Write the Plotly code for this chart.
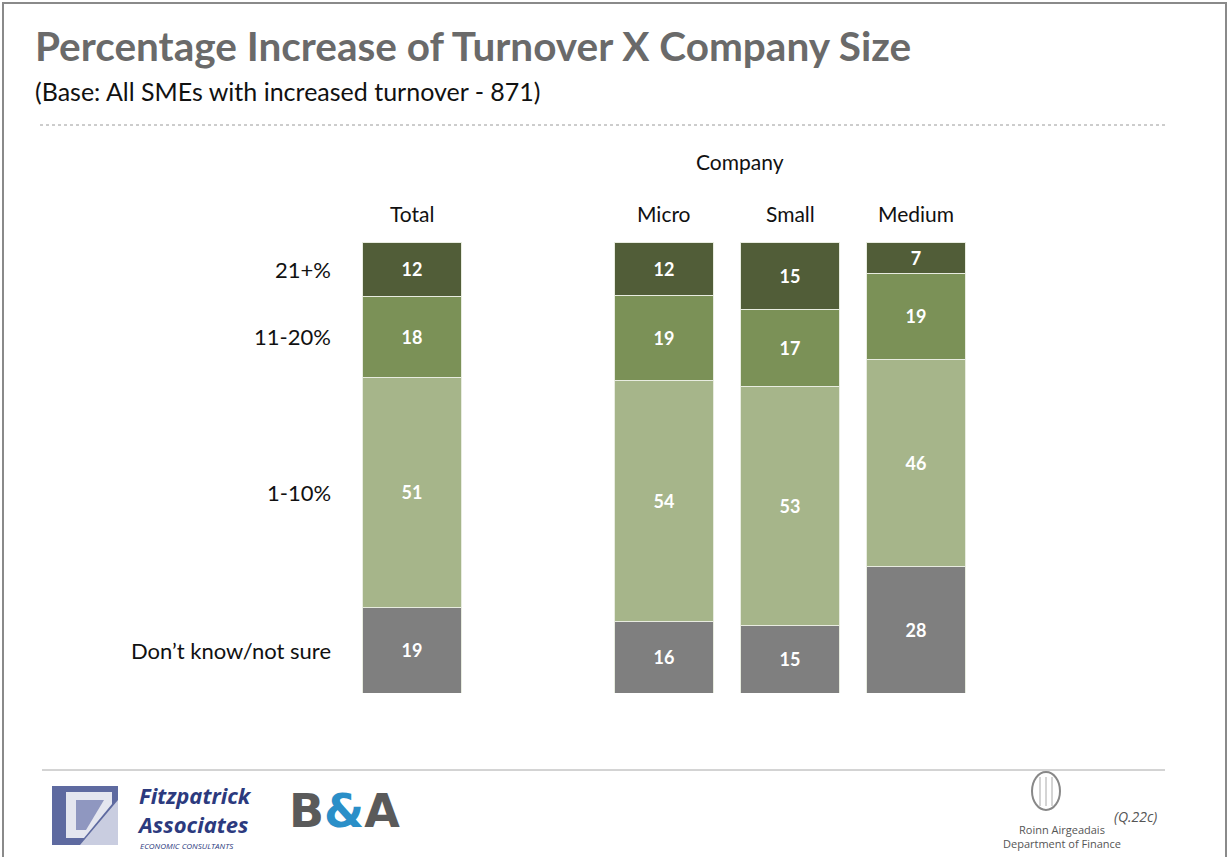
import plotly.graph_objects as go

# Data: share of SMEs by size of turnover increase (stacked to 100%)
groups = ["Total", "Micro", "Small", "Medium"]
group_pos = [0, 2, 3, 4]
bands = ["Don\u2019t know/not sure", "1-10%", "11-20%", "21+%"]
dont_know = [19, 16, 15, 28]
pct_1_10 = [51, 54, 53, 46]
pct_11_20 = [18, 19, 17, 19]
pct_21_plus = [12, 12, 15, 7]
band_colors = ["#7f7f7f", "#a6b58a", "#7b9157", "#515d38"]

W, H = 1228, 857
FONT = "Lato"


def px_x(x):
    return x / W


def px_y(y):
    return 1 - y / H


fig = go.Figure()
series = [dont_know, pct_1_10, pct_11_20, pct_21_plus]
for name, vals, col in zip(bands, series, band_colors):
    fig.add_trace(go.Bar(
        x=group_pos, y=vals, name=name, width=0.79,
        marker=dict(color=col, line=dict(color="#e8ece0", width=1)),
        text=[str(v) for v in vals], textposition="inside",
        insidetextanchor="middle", textangle=0,
        textfont=dict(family=FONT, size=18, color="white", weight="bold"),
        hoverinfo="skip",
    ))

# x: 126 px per category slot, Total centred at 412 px
x0_px, slot = 412, 126
fig.update_layout(
    width=W, height=H, barmode="stack", barnorm="percent",
    margin=dict(l=0, r=0, t=0, b=0), showlegend=False,
    paper_bgcolor="white", plot_bgcolor="white",
    xaxis=dict(domain=[0, 1], range=[-x0_px / slot, (W - x0_px) / slot],
               visible=False, fixedrange=True),
    yaxis=dict(domain=[px_y(693), px_y(242)], range=[0, 100],
               visible=False, fixedrange=True),
    font=dict(family=FONT),
)

ann = []
# Title and base
ann.append(dict(text="<b>Percentage Increase of Turnover X Company Size</b>",
                x=px_x(33), y=px_y(45), xref="paper", yref="paper",
                xanchor="left", yanchor="middle", showarrow=False,
                font=dict(family=FONT, size=40.5, color="#6a6a6a")))
ann.append(dict(text="(Base: All SMEs with increased turnover - 871)",
                x=px_x(33), y=px_y(91), xref="paper", yref="paper",
                xanchor="left", yanchor="middle", showarrow=False,
                font=dict(family=FONT, size=25, color="#111111")))

# Group headings above each bar
for g, p in zip(groups, group_pos):
    ann.append(dict(text=g, x=p, y=px_y(213), xref="x", yref="paper",
                    xanchor="center", yanchor="middle", showarrow=False,
                    font=dict(family=FONT, size=21, color="#111111")))
ann.append(dict(text="Company", x=2.6, y=px_y(162), xref="x", yref="paper",
                xanchor="center", yanchor="middle", showarrow=False,
                font=dict(family=FONT, size=21, color="#111111")))

# Band labels beside the Total bar, at the middle of each Total segment
total_vals = [s[0] for s in series]
tot = sum(total_vals)
cum = 0
for name, v in zip(bands, total_vals):
    mid = (cum + v / 2) / tot * 100
    cum += v
    ann.append(dict(text=name, x=px_x(333), y=mid, xref="paper", yref="y",
                    xanchor="right", yanchor="middle", showarrow=False,
                    font=dict(family=FONT, size=22, color="#111111")))

# Footer: logos and reference
ann.append(dict(text="<b><i>Fitzpatrick<br>Associates</i></b>", x=px_x(135), y=px_y(809),
                xref="paper", yref="paper", xanchor="left", yanchor="middle", align="left",
                showarrow=False, font=dict(family="Open Sans", size=22, color="#2c3a7e")))
ann.append(dict(text="<i>ECONOMIC CONSULTANTS</i>", x=px_x(138), y=px_y(845),
                xref="paper", yref="paper", xanchor="left", yanchor="middle",
                showarrow=False, font=dict(family="Open Sans", size=8, color="#2c3a7e")))
ann.append(dict(text="<b>B<span style='color:#2a8fc8'>&amp;</span>A</b>",
                x=px_x(344), y=px_y(811), xref="paper", yref="paper",
                xanchor="center", yanchor="middle", showarrow=False,
                font=dict(family="DejaVu Sans", size=46, color="#5a5a5a")))
ann.append(dict(text="<i>(Q.22c)</i>", x=px_x(1135), y=px_y(816),
                xref="paper", yref="paper", xanchor="center", yanchor="middle",
                showarrow=False, font=dict(family="Open Sans", size=14, color="#555555")))
ann.append(dict(text="Roinn Airgeadais", x=px_x(1062), y=px_y(829),
                xref="paper", yref="paper", xanchor="center", yanchor="middle",
                showarrow=False, font=dict(family="Open Sans", size=11, color="#555555")))
ann.append(dict(text="Department of Finance", x=px_x(1062), y=px_y(843),
                xref="paper", yref="paper", xanchor="center", yanchor="middle",
                showarrow=False, font=dict(family="Open Sans", size=11, color="#555555")))
fig.update_layout(annotations=ann)

shapes = []
# Slide frame
shapes.append(dict(type="rect", xref="paper", yref="paper",
                   x0=px_x(3), x1=px_x(1226), y0=px_y(880), y1=px_y(3),
                   line=dict(color="#8a8a8a", width=2), fillcolor="rgba(0,0,0,0)"))
# Dotted rule under the heading
shapes.append(dict(type="line", xref="paper", yref="paper",
                   x0=px_x(40), x1=px_x(1165), y0=px_y(125), y1=px_y(125),
                   line=dict(color="#9a9a9a", width=1, dash="dot")))
# Footer rule
shapes.append(dict(type="line", xref="paper", yref="paper",
                   x0=px_x(42), x1=px_x(1165), y0=px_y(770), y1=px_y(770),
                   line=dict(color="#a8a8a8", width=1)))
# Fitzpatrick emblem
shapes.append(dict(type="rect", xref="paper", yref="paper",
                   x0=px_x(52), x1=px_x(118), y0=px_y(845), y1=px_y(786),
                   line=dict(width=0), fillcolor="#c9cde0"))
shapes.append(dict(type="path", xref="paper", yref="paper",
                   path=f"M {px_x(52)},{px_y(786)} L {px_x(118)},{px_y(786)} L {px_x(118)},{px_y(800)} "
                        f"L {px_x(80)},{px_y(845)} L {px_x(52)},{px_y(845)} Z",
                   line=dict(width=0), fillcolor="#5e6aa0"))
shapes.append(dict(type="path", xref="paper", yref="paper",
                   path=f"M {px_x(66)},{px_y(792)} L {px_x(112)},{px_y(792)} L {px_x(112)},{px_y(804)} "
                        f"L {px_x(84)},{px_y(838)} L {px_x(66)},{px_y(838)} Z",
                   line=dict(width=0), fillcolor="#e4e6ef"))
shapes.append(dict(type="path", xref="paper", yref="paper",
                   path=f"M {px_x(76)},{px_y(800)} L {px_x(104)},{px_y(800)} L {px_x(86)},{px_y(830)} "
                        f"L {px_x(76)},{px_y(830)} Z",
                   line=dict(width=0), fillcolor="#8f97c0"))
# Harp outline
shapes.append(dict(type="circle", xref="paper", yref="paper",
                   x0=px_x(1032), x1=px_x(1060), y0=px_y(810), y1=px_y(772),
                   line=dict(color="#888888", width=2), fillcolor="rgba(0,0,0,0)"))
for xx in (1040, 1046, 1052):
    shapes.append(dict(type="line", xref="paper", yref="paper",
                       x0=px_x(xx), x1=px_x(xx), y0=px_y(806), y1=px_y(777),
                       line=dict(color="#aaaaaa", width=1)))
fig.update_layout(shapes=shapes)

fig.write_html("out.html")
